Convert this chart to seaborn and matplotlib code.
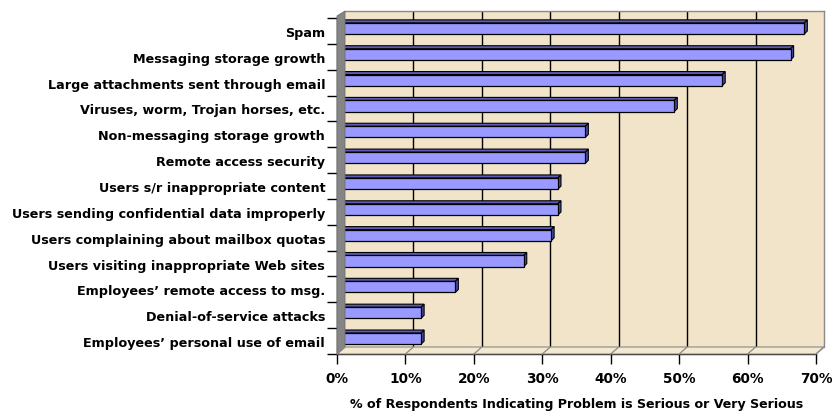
import matplotlib
matplotlib.use("Agg")
import matplotlib.pyplot as plt
import matplotlib.patches as mpatches
import matplotlib.lines as mlines
import seaborn as sns
import pandas as pd
import numpy as np

categories = [
    "Spam",
    "Messaging storage growth",
    "Large attachments sent through email",
    "Viruses, worm, Trojan horses, etc.",
    "Non-messaging storage growth",
    "Remote access security",
    "Users s/r inappropriate content",
    "Users sending confidential data improperly",
    "Users complaining about mailbox quotas",
    "Users visiting inappropriate Web sites",
    "Employees\u2019 remote access to msg.",
    "Denial-of-service attacks",
    "Employees\u2019 personal use of email",
]
values = [68, 66, 56, 49, 36, 36, 32, 32, 31, 27, 17, 12, 12]
x_ticks = [0, 10, 20, 30, 40, 50, 60, 70]
x_tick_labels = [f"{t}%" for t in x_ticks]
x_label = "% of Respondents Indicating Problem is Serious or Very Serious"

df = pd.DataFrame({"cat": categories, "val": values})

sns.set_theme(style="white")
plt.rcParams["font.family"] = ["DejaVu Sans"]
plt.rcParams["text.color"] = "black"
plt.rcParams["xtick.color"] = "black"
plt.rcParams["ytick.color"] = "black"
plt.rcParams["axes.labelcolor"] = "black"

W, H = 832, 414
DPI = 100
fig = plt.figure(figsize=(W / DPI, H / DPI), dpi=DPI)
fig.patch.set_facecolor("white")

PARCH = "#F1E4C8"
FLOOR = "#F3E8D0"
WALL = "#858585"
GRID_GRAY = "#8A8A8A"

# pixel layout
fx0, fx1, fy_top, fy_bot = 337, 816, 19, 355   # front plane
DX, DY = 8, 7                                  # depth offset (px)
bx0, bx1, by_top, by_bot = fx0 + DX, fx1 + DX, fy_top - DY, fy_bot - DY

def fig_rect(x0, x1, ytop, ybot):
    return [x0 / W, (H - ybot) / H, (x1 - x0) / W, (ybot - ytop) / H]

def fpt(x, y):
    return (x / W, (H - y) / H)

# back wall
ax_back = fig.add_axes(fig_rect(bx0, bx1, by_top, by_bot))
ax_back.set_facecolor(PARCH)
ax_back.set_xlim(0, 70)
ax_back.set_ylim(0, 1)
for t in x_ticks[1:-1]:
    ax_back.axvline(t, color="black", lw=1.0)
ax_back.set_xticks([])
ax_back.set_yticks([])
for s in ["left", "bottom"]:
    ax_back.spines[s].set_visible(False)
for s in ["top", "right"]:
    ax_back.spines[s].set_color(GRID_GRAY)
    ax_back.spines[s].set_linewidth(1.0)

# floor
floor = mpatches.Polygon([fpt(fx0, fy_bot), fpt(fx1, fy_bot), fpt(bx1, by_bot), fpt(bx0, by_bot)],
                         closed=True, transform=fig.transFigure, facecolor=FLOOR,
                         edgecolor=GRID_GRAY, lw=0.8, zorder=0.5)
fig.patches.append(floor)
for t in x_ticks:
    xf = fx0 + (fx1 - fx0) * t / 70
    xb = bx0 + (bx1 - bx0) * t / 70
    fig.lines.append(mlines.Line2D([xf / W, xb / W], [(H - fy_bot) / H, (H - by_bot) / H],
                                   transform=fig.transFigure, color=GRID_GRAY, lw=0.9))

# left side wall
wall = mpatches.Polygon([fpt(fx0, fy_top - 2), fpt(fx0, fy_bot), fpt(bx0, by_bot), fpt(bx0, by_top)],
                        closed=True, transform=fig.transFigure, facecolor=WALL,
                        edgecolor="#6E6E6E", lw=0.6, zorder=0.6)
fig.patches.append(wall)

# front axes with bars
ax = fig.add_axes(fig_rect(fx0, fx1, fy_top, fy_bot))
ax.patch.set_alpha(0)
sns.barplot(data=df, x="val", y="cat", orient="h", color="#9999FF",
            edgecolor="black", linewidth=0.9, width=0.43, saturation=1, ax=ax)
ax.set_xlim(0, 70)
ax.set_ylim(len(categories) - 0.5, -0.5)

px_x = 70 / (fx1 - fx0)
px_y = len(categories) / (fy_bot - fy_top)
sx, sy = 2 * px_x, 2.5 * px_y     # bar placement inside depth
dx, dy = 3 * px_x, 3 * px_y       # bar 3D depth
for p in list(ax.patches):
    p.set_x(p.get_x() + sx)
    p.set_y(p.get_y() - sy)
    x0, y0, w, h = p.get_x(), p.get_y(), p.get_width(), p.get_height()
    top = mpatches.Polygon([(x0, y0), (x0 + w, y0), (x0 + w + dx, y0 - dy), (x0 + dx, y0 - dy)],
                           closed=True, facecolor="#5C5CB8", edgecolor="black", lw=0.8, zorder=3)
    side = mpatches.Polygon([(x0 + w, y0), (x0 + w, y0 + h), (x0 + w + dx, y0 + h - dy), (x0 + w + dx, y0 - dy)],
                            closed=True, facecolor="#4A4AA8", edgecolor="black", lw=0.8, zorder=3)
    ax.add_patch(top)
    ax.add_patch(side)
    p.set_zorder(4)

for s in ["top", "right"]:
    ax.spines[s].set_visible(False)
for s in ["left", "bottom"]:
    ax.spines[s].set_color("black")
    ax.spines[s].set_linewidth(1.0)

ax.set_xticks(x_ticks)
ax.set_xticklabels(x_tick_labels, fontsize=9.8, fontweight="bold", color="black")
ax.tick_params(axis="x", direction="out", length=7, width=1, color="black", pad=5, bottom=True)
ax.set_yticks(range(len(categories)))
ax.set_yticklabels(categories, fontsize=9.2, fontweight="bold", color="black")
ax.tick_params(axis="y", which="major", length=0, pad=8.5, left=True)
ax.set_yticks(np.arange(-0.5, len(categories), 1.0), minor=True)
ax.tick_params(axis="y", which="minor", direction="out", length=7, width=1, color="black", left=True)
ax.set_xlabel(x_label, fontsize=9.1, fontweight="bold", labelpad=9, color="black")
ax.set_ylabel("")

fig.savefig("out.png", dpi=DPI, facecolor="white")
